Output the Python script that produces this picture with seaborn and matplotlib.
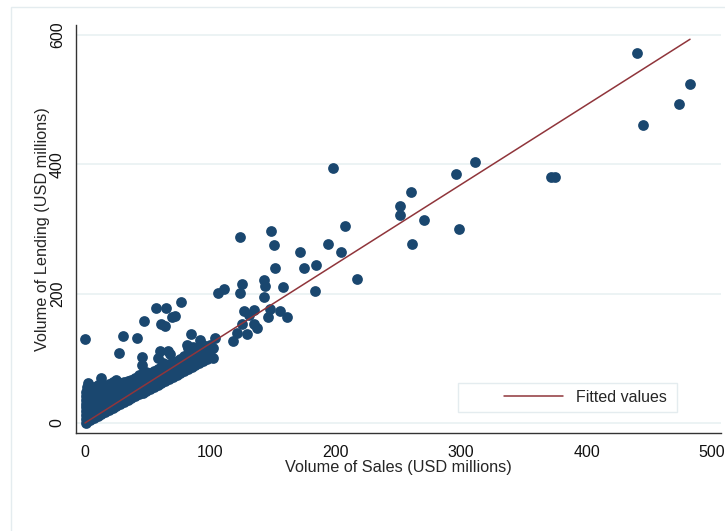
import numpy as np
import pandas as pd
import matplotlib.pyplot as plt
import seaborn as sns
from matplotlib.patches import Rectangle

# ── datos: préstamos vs ventas (USD millones) ────────────────────────────────
# puntos dispersos
sales_large = [439.9, 482.5, 474.0, 444.7, 371.3, 374.8, 310.7, 295.5, 198.0,
               259.7, 251.2, 251.4, 270.3, 298.5, 261.0, 207.3, 204.0, 217.2,
               194.0, 171.5, 184.0, 174.5, 148.5, 151.0, 151.8, 123.6, 110.7,
               105.8, 125.0, 123.6, 142.7, 143.8, 158.1, 183.2, 142.7, 126.8,
               134.8, 147.5, 155.5, 160.8, 146.2, 131.0, 134.8, 137.4, 125.2,
               121.0, 129.0, 118.0, 103.5, 101.8, 99.7, 76.3, 56.6, 64.4, 72.0,
               69.6, 60.4, 63.8, 47.0, 30.3, 41.2, 0.0, 84.5, 91.7, 94.3, 82.4,
               86.4, 81.0, 27.4, 45.2, 45.2, 59.8, 66.0, 58.5, 62.4, 67.8,
               102.3]
lending_large = [571.4, 524.0, 492.6, 460.6, 380.2, 380.2, 402.9, 385.5, 394.1,
                 356.5, 335.9, 322.0, 313.8, 299.4, 276.7, 304.2, 263.5, 222.0,
                 277.0, 263.8, 244.2, 239.0, 296.7, 274.6, 239.5, 286.7, 206.6,
                 201.4, 214.3, 200.4, 220.5, 211.2, 209.7, 204.5, 194.2, 173.6,
                 174.7, 175.7, 173.6, 163.4, 163.4, 167.0, 153.0, 146.3, 152.5,
                 139.6, 137.0, 127.0, 131.5, 101.0, 120.5, 186.6, 177.7, 178.2,
                 165.8, 163.8, 153.0, 150.4, 157.6, 134.5, 131.8, 129.8, 138.0,
                 128.0, 120.0, 115.4, 118.0, 120.5, 107.7, 101.5, 89.6, 111.3,
                 111.3, 100.0, 92.0, 106.0, 115.4]

# nube densa cerca del origen: ventas de cada columna y sus préstamos
blob_sales = [0.5, 1.5, 2.7, 4, 7, 10, 13, 16, 19, 22, 25, 28, 31, 34, 37, 40,
              43, 46, 49, 52, 55, 58, 61, 64, 67, 70, 73, 76, 79, 82, 85, 88,
              91, 94, 97, 100]
blob_lending = [
    [0, 6, 12, 18, 24, 30, 36, 42, 48],
    [3, 10, 17, 25, 33, 40, 47, 55],
    [4, 14, 26, 38, 61],
    [5, 12, 20, 28, 36, 44, 52],
    [8, 16, 24, 32, 40, 48, 55],
    [11, 19, 27, 35, 43, 51, 58],
    [14, 22, 30, 38, 46, 54, 62, 70],
    [17, 25, 33, 41, 49, 57],
    [20, 28, 36, 44, 52, 60],
    [23, 31, 39, 47, 55, 64],
    [26, 34, 42, 50, 58, 67],
    [29, 37, 45, 53, 61],
    [32, 40, 48, 56, 63],
    [35, 43, 51, 59, 65],
    [38, 46, 54, 62, 67],
    [41, 49, 57, 65, 70],
    [44, 52, 60, 68, 74],
    [47, 55, 63, 71, 77],
    [50, 58, 66, 74, 79],
    [53, 61, 69, 77],
    [56, 64, 72, 80],
    [59, 67, 75, 83],
    [62, 70, 78, 86],
    [65, 73, 81, 88],
    [68, 76, 84, 91],
    [71, 79, 87, 94],
    [74, 82, 90, 96],
    [77, 85, 93, 99],
    [80, 88, 96, 103],
    [83, 91, 99, 106],
    [86, 94, 102, 110],
    [89, 97, 105, 113],
    [92, 100, 108, 116],
    [96, 104, 112],
    [99, 107, 115],
    [103, 111],
]

# recta ajustada (lfit): intercepto y pendiente
fit_intercept = 0.0
fit_slope = 1.229

NAVY = '#1a476f'
MAROON = '#90353b'
GRID = '#eaf2f3'

# ── armado del DataFrame ─────────────────────────────────────────────────────
bx, by = [], []
for x, ys in zip(blob_sales, blob_lending):
    bx += [x] * len(ys)
    by += ys
df = pd.DataFrame({'ventas': sales_large + bx, 'prestamos': lending_large + by})

fit_x = np.array([df['ventas'].min(), df['ventas'].max()])
fit_df = pd.DataFrame({'ventas': fit_x,
                       'ajuste': fit_intercept + fit_slope * fit_x})

# ── gráfica ──────────────────────────────────────────────────────────────────
sns.set_theme(style='white')
plt.rcParams['font.family'] = ['Liberation Sans', 'DejaVu Sans']

fig = plt.figure(figsize=(7.25, 5.31), dpi=100)
ax = fig.add_axes([0.1048, 0.1846, 0.8897, 0.7683])

# marco exterior tenue (estilo Stata)
fig.patches.append(Rectangle((11 / 725, -0.05), 1.2, 1 - 7 / 531 + 0.05,
                             transform=fig.transFigure, fill=False,
                             edgecolor='#e4ecef', linewidth=1.0))

sns.scatterplot(data=df, x='ventas', y='prestamos', color=NAVY, s=60,
                linewidth=0, ax=ax, zorder=2, legend=False)
sns.lineplot(data=fit_df, x='ventas', y='ajuste', color=MAROON, linewidth=1.1,
             ax=ax, zorder=3, label='Fitted values')

ax.set_xlim(-7.2, 507.2)
ax.set_ylim(-15.5, 615)
ax.set_xticks([0, 100, 200, 300, 400, 500])
ax.set_yticks([0, 200, 400, 600])
ax.yaxis.grid(True, color=GRID, linewidth=1.3, zorder=0)
ax.set_axisbelow(True)

for s in ['top', 'right']:
    ax.spines[s].set_visible(False)
for s in ['left', 'bottom']:
    ax.spines[s].set_color('#333333')
    ax.spines[s].set_linewidth(1.0)

ax.tick_params(axis='both', direction='out', length=4, width=1,
               color='#333333', labelsize=11.5, labelcolor='#111111')
ax.tick_params(axis='x', pad=5)
ax.tick_params(axis='y', pad=4)
plt.setp(ax.get_yticklabels(), rotation=90, va='center')

ax.set_xlabel('Volume of Sales (USD millions)', fontsize=11.7, labelpad=0)
ax.set_ylabel('Volume of Lending (USD millions)', fontsize=11.7, labelpad=0)

# leyenda: marco dibujado aparte + entrada sin marco
ax.add_patch(Rectangle((0.592, 0.0515), 0.3395, 0.071, transform=ax.transAxes,
                       facecolor='white', edgecolor='#e4ecef', linewidth=1.0,
                       zorder=4))
ax.legend(loc='center left', bbox_to_anchor=(0.6636, 0.087), frameon=False,
          fontsize=11.5, handlelength=3.7, handletextpad=0.8, borderpad=0,
          borderaxespad=0).set_zorder(5)

fig.savefig('out.png', dpi=100)
